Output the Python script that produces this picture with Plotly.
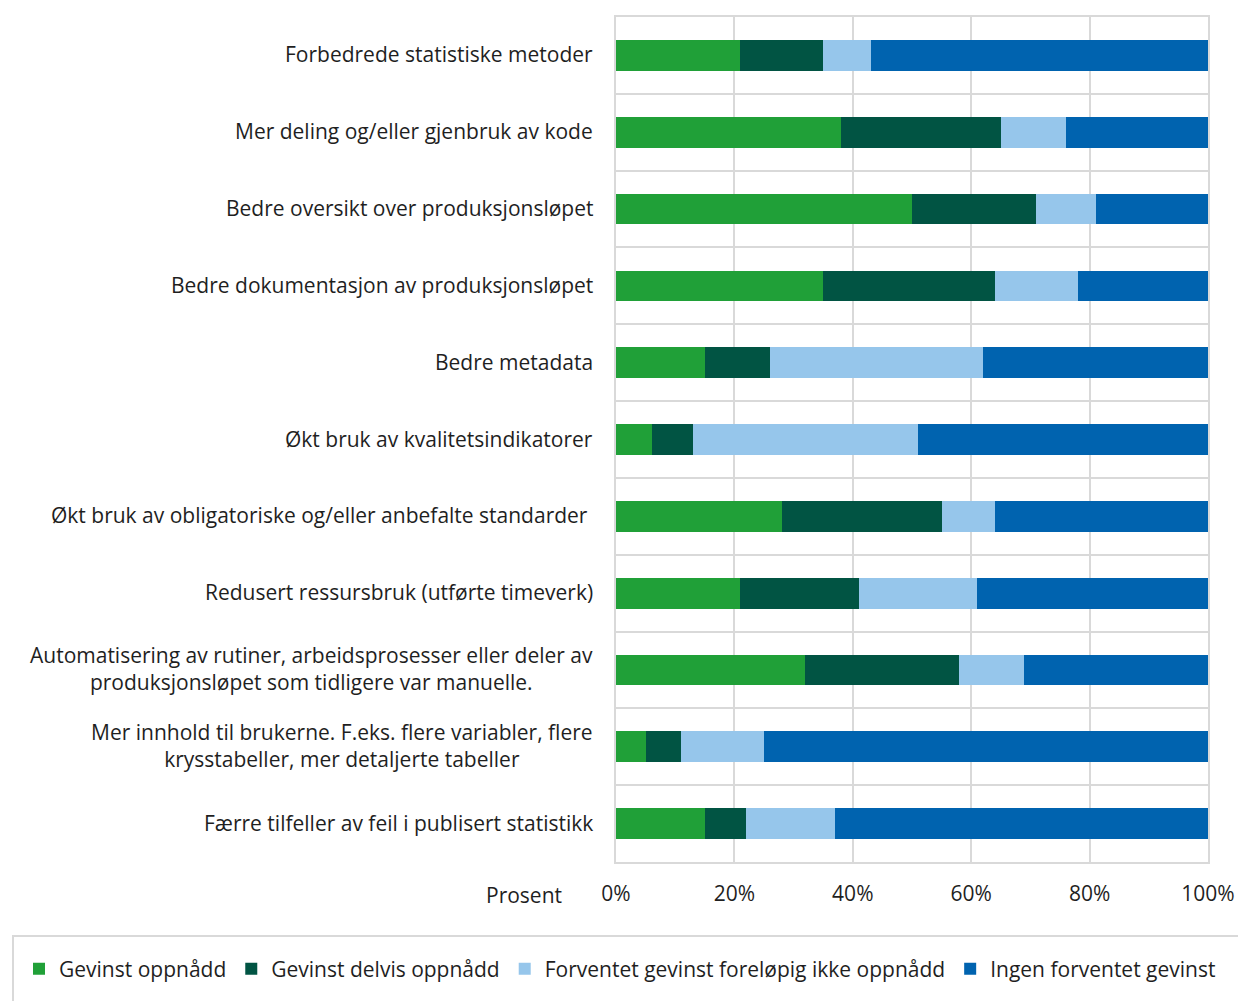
import plotly.graph_objects as go

categories = [
    "Forbedrede statistiske metoder",
    "Mer deling og/eller gjenbruk av kode",
    "Bedre oversikt over produksjonsløpet",
    "Bedre dokumentasjon av produksjonsløpet",
    "Bedre metadata",
    "Økt bruk av kvalitetsindikatorer",
    "Økt bruk av obligatoriske og/eller anbefalte standarder\u00a0",
    "Redusert ressursbruk (utførte timeverk)",
    "Automatisering av rutiner, arbeidsprosesser eller deler av<br>produksjonsløpet som tidligere var manuelle.",
    "Mer innhold til brukerne. F.eks. flere variabler, flere<br>krysstabeller, mer detaljerte tabeller",
    "Færre tilfeller av feil i publisert statistikk",
]
gevinst_oppnadd = [21, 38, 50, 35, 15, 6, 28, 21, 32, 5, 15]
gevinst_delvis = [14, 27, 21, 29, 11, 7, 27, 20, 26, 6, 7]
forventet_ikke = [8, 11, 10, 14, 36, 38, 9, 20, 11, 14, 15]
ingen_gevinst = [57, 24, 19, 22, 38, 49, 36, 39, 31, 75, 63]

series_names = ["Gevinst oppnådd", "Gevinst delvis oppnådd",
                "Forventet gevinst foreløpig ikke oppnådd", "Ingen forventet gevinst"]
series_values = [gevinst_oppnadd, gevinst_delvis, forventet_ikke, ingen_gevinst]
colors = ["#20A038", "#015443", "#96C6EB", "#0063AF"]
x_tickvals = [0, 20, 40, 60, 80, 100]
x_ticktext = ["0%", "20%", "40%", "60%", "80%", "100%"]

ykeys = [f"c{i}" for i in range(len(categories))]

W, H = 1238, 1001
L, T = 616, 17
plot_right, plot_bottom = 1208, 862
R = W - plot_right
B = H - plot_bottom
pw, ph = W - L - R, H - T - B

def px_x(p):
    return (p - L) / pw

def px_y(p):
    return (plot_bottom - p) / ph

FONT = "Open Sans"
FS = 21
TXT = "#1f1f1f"
GRID = "#D9D9D9"

fig = go.Figure()
for name, vals, col in zip(series_names, series_values, colors):
    fig.add_trace(go.Bar(
        y=ykeys, x=vals, name=name, orientation="h",
        marker=dict(color=col, line=dict(width=0)),
        width=0.4,
    ))

annotations = []
for k, lab in zip(ykeys, categories):
    annotations.append(dict(
        x=0, xref="paper", y=k, yref="y", xshift=-21, yshift=1,
        text=lab, showarrow=False, xanchor="right", yanchor="middle",
        align="center", font=dict(family=FONT, size=FS, color=TXT),
    ))
annotations.append(dict(
    x=0, xref="paper", y=0, yref="paper", xshift=-52, yshift=-33,
    text="Prosent", showarrow=False, xanchor="right", yanchor="middle",
    font=dict(family=FONT, size=FS, color=TXT),
))

fig.update_layout(
    width=W, height=H,
    barmode="stack",
    bargap=0.6,
    plot_bgcolor="white", paper_bgcolor="white",
    margin=dict(l=L, r=R, t=T, b=B, autoexpand=False),
    font=dict(family=FONT, size=FS, color=TXT),
    xaxis=dict(
        range=[0, 100], tickvals=x_tickvals, ticktext=x_ticktext,
        showgrid=True, gridcolor=GRID, gridwidth=2,
        zeroline=False, showline=True, linecolor=GRID, linewidth=2, mirror=True,
        ticks="outside", ticklen=12, tickcolor="rgba(0,0,0,0)",
        tickfont=dict(family=FONT, size=FS, color=TXT),
    ),
    yaxis=dict(
        type="category", categoryorder="array", categoryarray=ykeys,
        autorange="reversed", tickson="boundaries",
        showgrid=True, gridcolor=GRID, gridwidth=2,
        showline=True, linecolor=GRID, linewidth=2, mirror=True,
        showticklabels=False, ticks="", zeroline=False,
    ),
    legend=dict(
        orientation="h", x=px_x(19), y=px_y(969), xanchor="left", yanchor="middle",
        font=dict(family=FONT, size=FS, color=TXT),
        bgcolor="rgba(0,0,0,0)", itemwidth=30, traceorder="normal",
        tracegroupgap=0,
    ),
    annotations=annotations,
    shapes=[dict(
        type="rect", xref="paper", yref="paper",
        x0=px_x(13), x1=px_x(1260), y0=px_y(936), y1=px_y(1020),
        line=dict(color=GRID, width=2), fillcolor="rgba(0,0,0,0)",
        layer="below",
    )],
    showlegend=True,
)

fig.write_html(
    "out.html",
    config={"displayModeBar": False},
    post_script="document.body.style.margin='0';document.body.style.overflow='hidden';",
)
